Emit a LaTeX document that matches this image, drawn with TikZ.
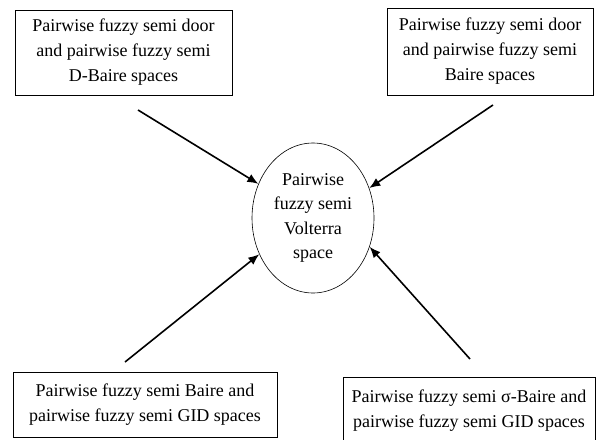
\documentclass[tikz,border=0pt]{standalone}
\usepackage{fontspec}
\setmainfont{Liberation Serif}
\usetikzlibrary{shapes.geometric, arrows.meta}

\begin{document}
\begin{tikzpicture}[x=1pt, y=-1pt,
			box/.style={shape=rectangle,
				draw=black,
				line width=0.8pt,
				align=center,
				inner sep=0pt,
			font=\fontsize{18}{25}\selectfont},
			hub/.style={shape=ellipse, draw=black, line width=0.6pt,
				minimum width=122pt, minimum height=150pt, inner sep=0pt,
				align=center, font=\fontsize{18}{24.5}\selectfont},
			imp/.style={-{Latex[length=11pt,width=9pt]}, line width=1.6pt}]

			\clip (0,0) rectangle (596,439);

			\node[box, minimum width=217pt, minimum height=85pt] at (123.5, 52.5) (DB){Pairwise fuzzy semi door\\and pairwise fuzzy semi\\D-Baire spaces};
			\node[box, minimum width=206pt, minimum height=87pt] at (490, 51.5) (BS){Pairwise fuzzy semi door\\and pairwise fuzzy semi\\Baire spaces};
			\node[box, minimum width=264pt, minimum height=65pt] at (145, 404.5) (GB){Pairwise fuzzy semi Baire and\\pairwise fuzzy semi GID spaces};
			\node[box, minimum width=252pt, minimum height=68pt] at (469, 411) (GS){Pairwise fuzzy semi σ-Baire and\\pairwise fuzzy semi GID spaces};

			\node[hub] at (313, 218) (V){Pairwise\\fuzzy semi\\Volterra\\space};

			\coordinate (t1) at (138, 110);
			\coordinate (t2) at (493, 105);
			\coordinate (t3) at (125, 362);
			\coordinate (t4) at (470, 359);

			\draw[imp] (t1) -- (V.148);
			\draw[imp] (t2) -- (V.28);
			\draw[imp] (t3) -- (V.214);
			\draw[imp] (t4) -- (V.-27);
		\end{tikzpicture}
\end{document}
